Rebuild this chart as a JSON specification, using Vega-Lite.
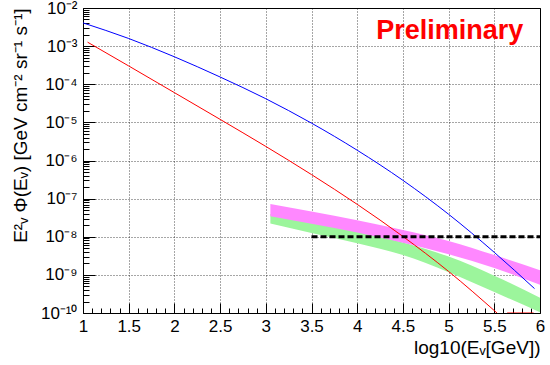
{
  "$schema": "https://vega.github.io/schema/vega-lite/v6.json",
  "width": 457,
  "height": 305,
  "autosize": {"type": "none"},
  "padding": {"left": 83, "top": 8, "right": 10, "bottom": 52},
  "background": "white",
  "config": {
    "view": {"stroke": "#000000", "strokeWidth": 1},
    "font": "Liberation Sans",
    "axis": {"labelFont": "Liberation Sans", "titleFont": "Liberation Sans", "labelColor": "#000", "titleColor": "#000"}
  },
  "datasets": {
    "bands": [
      {"x": 3.05, "hi": 3.98e-8, "lo": 2.24e-8, "s": "g"},
      {"x": 3.5, "hi": 2.40e-8, "lo": 1.26e-8, "s": "g"},
      {"x": 4.0, "hi": 1.38e-8, "lo": 6.76e-9, "s": "g"},
      {"x": 4.5, "hi": 7.08e-9, "lo": 3.31e-9, "s": "g"},
      {"x": 5.0, "hi": 3.02e-9, "lo": 1.17e-9, "s": "g"},
      {"x": 5.5, "hi": 9.55e-10, "lo": 3.55e-10, "s": "g"},
      {"x": 6.0, "hi": 2.51e-10, "lo": 1.05e-10, "s": "g"},
      {"x": 3.05, "hi": 7.24e-8, "lo": 3.47e-8, "s": "m"},
      {"x": 3.5, "hi": 4.57e-8, "lo": 2.19e-8, "s": "m"},
      {"x": 4.0, "hi": 2.69e-8, "lo": 1.29e-8, "s": "m"},
      {"x": 4.5, "hi": 1.51e-8, "lo": 6.92e-9, "s": "m"},
      {"x": 5.0, "hi": 7.76e-9, "lo": 3.47e-9, "s": "m"},
      {"x": 5.5, "hi": 3.31e-9, "lo": 1.51e-9, "s": "m"},
      {"x": 6.0, "hi": 1.32e-9, "lo": 5.50e-10, "s": "m"}
    ],
    "curves": [
      {"x": 1.0, "y": 4.07e-3, "s": "b", "seg": "b"},
      {"x": 1.5, "y": 1.585e-3, "s": "b", "seg": "b"},
      {"x": 2.0, "y": 5.25e-4, "s": "b", "seg": "b"},
      {"x": 2.5, "y": 1.55e-4, "s": "b", "seg": "b"},
      {"x": 3.0, "y": 4.17e-5, "s": "b", "seg": "b"},
      {"x": 3.5, "y": 9.55e-6, "s": "b", "seg": "b"},
      {"x": 4.0, "y": 1.86e-6, "s": "b", "seg": "b"},
      {"x": 4.5, "y": 3.02e-7, "s": "b", "seg": "b"},
      {"x": 5.0, "y": 3.89e-8, "s": "b", "seg": "b"},
      {"x": 5.5, "y": 3.89e-9, "s": "b", "seg": "b"},
      {"x": 5.94, "y": 4.37e-10, "s": "b", "seg": "b"},
      {"x": 1.05, "y": 1.27e-3, "s": "r", "seg": "r"},
      {"x": 1.5, "y": 3.02e-4, "s": "r", "seg": "r"},
      {"x": 2.0, "y": 6.03e-5, "s": "r", "seg": "r"},
      {"x": 2.5, "y": 1.20e-5, "s": "r", "seg": "r"},
      {"x": 3.0, "y": 2.34e-6, "s": "r", "seg": "r"},
      {"x": 3.5, "y": 4.27e-7, "s": "r", "seg": "r"},
      {"x": 4.0, "y": 7.08e-8, "s": "r", "seg": "r"},
      {"x": 4.5, "y": 1.02e-8, "s": "r", "seg": "r"},
      {"x": 5.0, "y": 1.23e-9, "s": "r", "seg": "r"},
      {"x": 5.53, "y": 1.0e-10, "s": "r", "seg": "r"},
      {"x": 5.64, "y": 1.0e-10, "s": "r", "seg": "r2"},
      {"x": 5.93, "y": 1.0e-10, "s": "r", "seg": "r2"}
    ],
    "limit": [
      {"x": 3.5, "y": 1e-8},
      {"x": 6.0, "y": 1e-8}
    ],
    "notes": [
      {"x": 5.818, "y": 0.0015, "label": "Preliminary"}
    ]
  },
  "layer": [
    {
      "data": {"name": "bands"},
      "mark": {"type": "area", "clip": true, "opacity": 1, "interpolate": "monotone"},
      "encoding": {
        "x": {
          "field": "x", "type": "quantitative",
          "scale": {"domain": [1, 6], "nice": false, "zero": false},
          "axis": {
            "orient": "bottom",
            "values": [1, 1.5, 2, 2.5, 3, 3.5, 4, 4.5, 5, 5.5, 6],
            "format": "~g",
            "ticks": false, "domain": false,
            "grid": true, "gridColor": "#000", "gridOpacity": 0.7, "gridDash": [1, 2], "gridWidth": 1,
            "labelFontSize": 17, "labelPadding": 5, "labelFlush": false, "labelOverlap": false,
            "title": "log10(Eᵥ[GeV])", "titleFontSize": 19, "titleFontWeight": "normal",
            "titleAnchor": "end", "titlePadding": 4
          }
        },
        "y": {
          "field": "hi", "type": "quantitative",
          "scale": {"type": "log", "domain": [1e-10, 1e-2], "nice": false},
          "axis": {
            "orient": "left",
            "values": [1e-10, 1e-9, 1e-8, 1e-7, 1e-6, 1e-5, 1e-4, 1e-3, 1e-2],
            "labelExpr": "'10' + replace(replace(replace(replace(replace(replace(replace(replace(replace(replace(replace(toString(round(log(datum.value)/LN10)), '-', '⁻'), '1', '¹'), '0', '⁰'), '2', '²'), '3', '³'), '4', '⁴'), '5', '⁵'), '6', '⁶'), '7', '⁷'), '8', '⁸'), '9', '⁹')",
            "ticks": false, "domain": false,
            "grid": true, "gridColor": "#000", "gridOpacity": 0.7, "gridDash": [1, 2], "gridWidth": 1,
            "labelFontSize": 17, "labelPadding": 6, "labelFlush": false, "labelOverlap": false,
            "title": "E²ᵥ Φ(Eᵥ) [GeV cm⁻² sr⁻¹ s⁻¹]", "titleFontSize": 19, "titleFontWeight": "normal",
            "titleAnchor": "end", "titlePadding": 10
          }
        },
        "y2": {"field": "lo"},
        "color": {
          "field": "s", "type": "nominal",
          "scale": {"domain": ["g", "m", "r", "b"], "range": ["#9cf59c", "#ff88ff", "#ff0000", "#0000ff"]},
          "legend": null
        }
      }
    },
    {
      "data": {"name": "curves"},
      "mark": {"type": "line", "clip": true, "strokeWidth": 1, "interpolate": "monotone"},
      "encoding": {
        "x": {"field": "x", "type": "quantitative", "axis": null},
        "y": {"field": "y", "type": "quantitative", "axis": null},
        "color": {"field": "s", "type": "nominal", "legend": null},
        "detail": {"field": "seg"}
      }
    },
    {
      "data": {"name": "limit"},
      "mark": {"type": "line", "color": "#000", "strokeWidth": 3, "strokeDash": [6, 3]},
      "encoding": {
        "x": {"field": "x", "type": "quantitative", "axis": null},
        "y": {"field": "y", "type": "quantitative", "axis": null}
      }
    },
    {
      "data": {"name": "notes"},
      "mark": {"type": "text", "align": "right", "baseline": "alphabetic", "font": "Liberation Sans", "fontWeight": "bold", "fontSize": 27, "color": "#ff0000"},
      "encoding": {
        "x": {"field": "x", "type": "quantitative", "axis": null},
        "y": {"field": "y", "type": "quantitative", "axis": null},
        "text": {"field": "label"}
      }
    },
    {
      "data": {"name": "limit"},
      "mark": {"type": "point", "opacity": 0},
      "encoding": {
        "x": {
          "field": "x", "type": "quantitative",
          "axis": {
            "orient": "bottom",
            "values": [1, 1.1, 1.2, 1.3, 1.4, 1.5, 1.6, 1.7, 1.8, 1.9, 2, 2.1, 2.2, 2.3, 2.4, 2.5, 2.6, 2.7, 2.8, 2.9, 3, 3.1, 3.2, 3.3, 3.4, 3.5, 3.6, 3.7, 3.8, 3.9, 4, 4.1, 4.2, 4.3, 4.4, 4.5, 4.6, 4.7, 4.8, 4.9, 5, 5.1, 5.2, 5.3, 5.4, 5.5, 5.6, 5.7, 5.8, 5.9, 6],
            "labels": false, "grid": false, "domain": false, "title": null,
            "ticks": true, "tickColor": "#000", "tickWidth": 1,
            "tickSize": {"condition": {"test": "abs(datum.value*2 - round(datum.value*2)) < 0.01", "value": -10}, "value": -5}
          }
        },
        "y": {
          "field": "y", "type": "quantitative",
          "axis": {
            "orient": "left",
            "values": [1e-10, 2e-10, 3e-10, 4e-10, 5e-10, 6e-10, 7e-10, 8e-10, 9e-10, 1e-9, 2e-9, 3e-9, 4e-9, 5e-9, 6e-9, 7e-9, 8e-9, 9e-9, 1e-8, 2e-8, 3e-8, 4e-8, 5e-8, 6e-8, 7e-8, 8e-8, 9e-8, 1e-7, 2e-7, 3e-7, 4e-7, 5e-7, 6e-7, 7e-7, 8e-7, 9e-7, 1e-6, 2e-6, 3e-6, 4e-6, 5e-6, 6e-6, 7e-6, 8e-6, 9e-6, 1e-5, 2e-5, 3e-5, 4e-5, 5e-5, 6e-5, 7e-5, 8e-5, 9e-5, 1e-4, 2e-4, 3e-4, 4e-4, 5e-4, 6e-4, 7e-4, 8e-4, 9e-4, 1e-3, 2e-3, 3e-3, 4e-3, 5e-3, 6e-3, 7e-3, 8e-3, 9e-3, 1e-2],
            "labels": false, "grid": false, "domain": false, "title": null,
            "ticks": true, "tickColor": "#000", "tickWidth": 1,
            "tickSize": {"condition": {"test": "abs(log(datum.value)/LN10 - round(log(datum.value)/LN10)) < 0.01", "value": -12}, "value": -6}
          }
        }
      }
    }
  ],
  "resolve": {"axis": {"x": "independent", "y": "independent"}}
}
